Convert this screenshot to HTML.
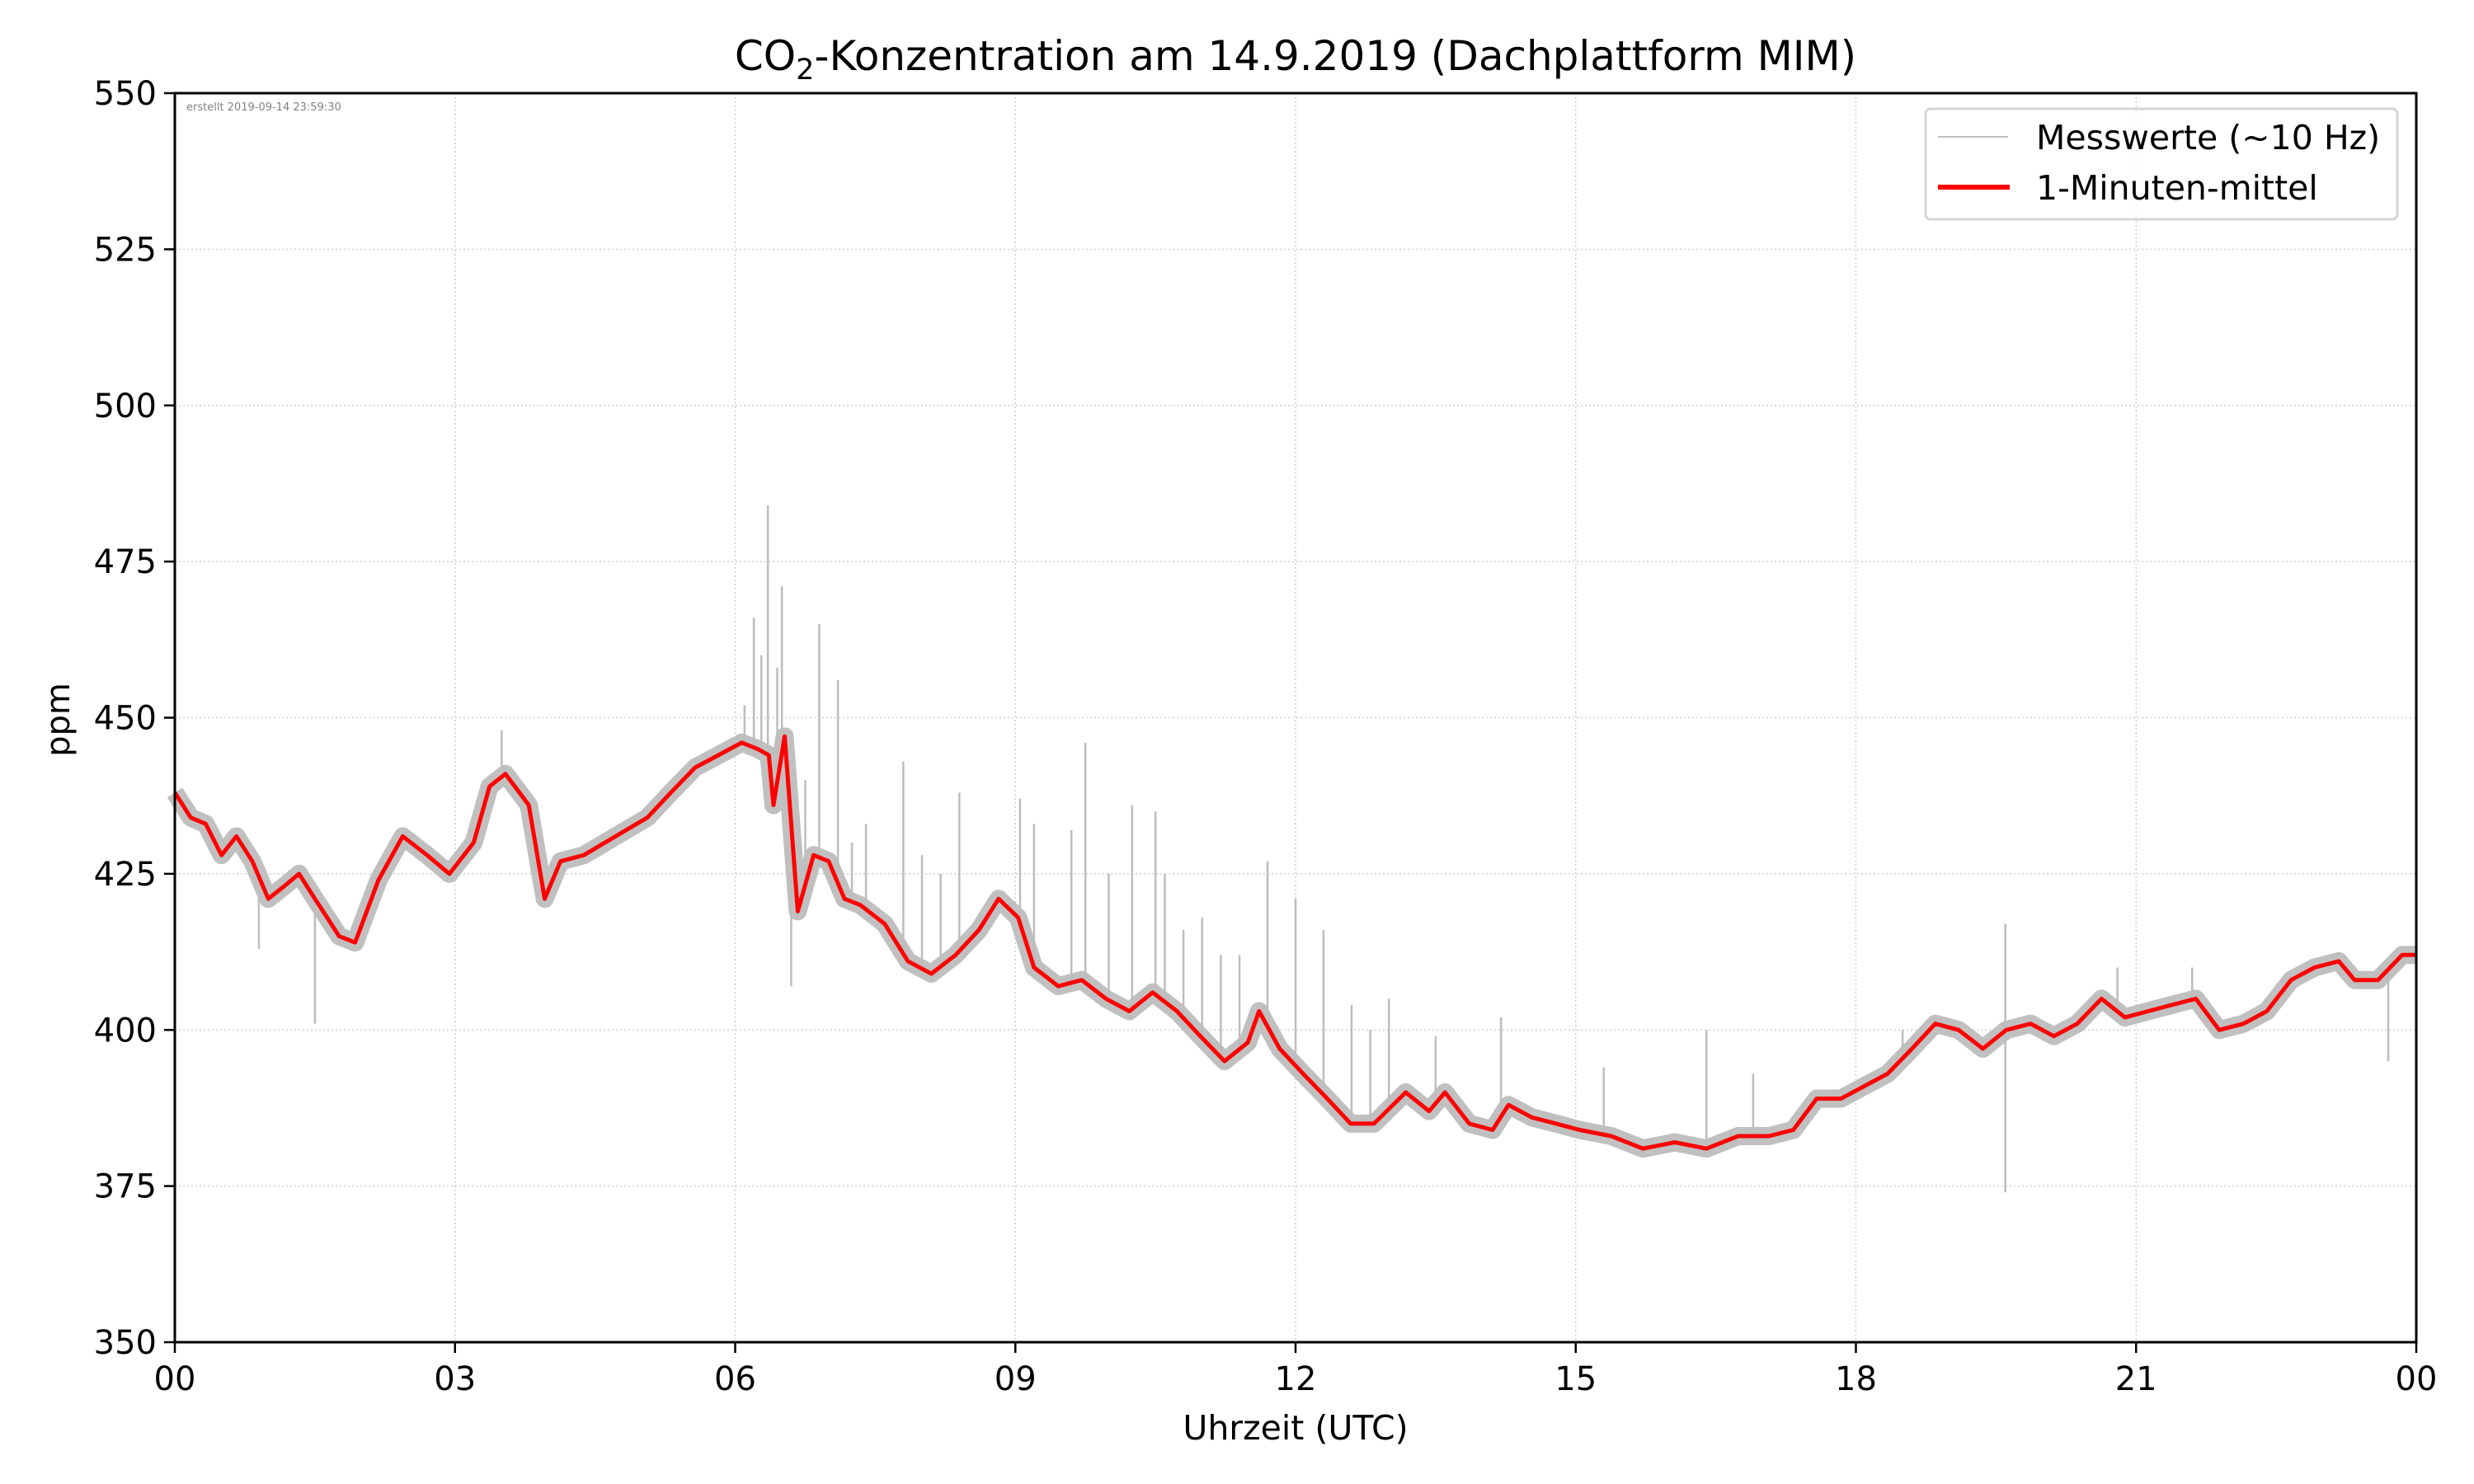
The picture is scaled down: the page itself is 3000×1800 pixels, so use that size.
<!DOCTYPE html>
<html><head><meta charset="utf-8"><style>
html,body{margin:0;padding:0;background:#fff;}
svg{display:block;font-family:"DejaVu Sans","Liberation Sans",sans-serif;}
</style></head><body>
<svg id="chart" width="3000" height="1800" viewBox="0 0 3000 1800" xmlns="http://www.w3.org/2000/svg">
<rect width="3000" height="1800" fill="#fff"/>
<g id="grid"></g>
<g id="raw"></g>
<g id="mean"></g>
<g id="axes"></g>
<text x="1571" y="85" font-size="50" text-anchor="middle">CO<tspan font-size="35" dy="11">2</tspan><tspan dy="-11">-Konzentration am 14.9.2019 (Dachplattform MIM)</tspan></text>
<text x="226" y="134" font-size="13" fill="#808080">erstellt 2019-09-14 23:59:30</text>
<text x="0" y="0" font-size="40" text-anchor="middle" transform="translate(84,873) rotate(-90)">ppm</text>
<text x="1571" y="1746" font-size="41" text-anchor="middle">Uhrzeit (UTC)</text>
<g>
<rect x="2335" y="132" width="572" height="134" rx="6" fill="#fff" fill-opacity="0.8" stroke="#d5d5d5" stroke-width="3"/>
<line x1="2350" y1="166" x2="2435" y2="166" stroke="#bfbfbf" stroke-width="2"/>
<text x="2469" y="181" font-size="41">Messwerte (~10 Hz)</text>
<line x1="2350" y1="227" x2="2437" y2="227" stroke="#ff0000" stroke-width="6"/>
<text x="2469" y="242" font-size="41">1-Minuten-mittel</text>
</g>
</svg>
<script>
const hours = [0,0.17,0.33,0.5,0.66,0.83,1.0,1.17,1.33,1.5,1.76,1.93,2.18,2.44,2.7,2.94,3.2,3.37,3.54,3.79,3.96,4.13,4.38,4.72,5.06,5.31,5.57,5.82,6.07,6.24,6.36,6.41,6.53,6.67,6.84,7.0,7.17,7.34,7.6,7.85,8.1,8.36,8.61,8.82,9.03,9.2,9.46,9.71,9.97,10.22,10.47,10.73,10.98,11.24,11.49,11.61,11.83,12.08,12.34,12.59,12.84,13.18,13.43,13.6,13.86,14.11,14.28,14.53,14.79,15.04,15.38,15.72,16.06,16.4,16.74,17.07,17.33,17.58,17.84,18.09,18.34,18.6,18.85,19.1,19.36,19.61,19.87,20.12,20.37,20.63,20.88,21.13,21.38,21.64,21.89,22.15,22.4,22.66,22.91,23.17,23.34,23.59,23.85,24];
const meanValues = [438,434,433,428,431,427,421,423,425,421,415,414,424,431,428,425,430,439,441,436,421,427,428,431,434,438,442,444,446,445,444,436,447,419,428,427,421,420,417,411,409,412,416,421,418,410,407,408,405,403,406,403,399,395,398,403,397,393,389,385,385,390,387,390,385,384,388,386,385,384,383,381,382,381,383,383,384,389,389,391,393,397,401,400,397,400,401,399,401,405,402,403,404,405,400,401,403,408,410,411,408,408,412,412];
const spikeHours = [0.9,1.5,2.3,3.5,6.2,6.35,6.5,6.9,7.1,7.8,8.4,9.05,9.75,10.25,10.5,11.0,11.7,12.0,12.3,13.0,14.2,16.4,19.6,19.6,23.7,6.6,7.4,8.0,9.2,10.0,10.8,11.4,12.6,13.5,15.3,16.9,18.5,20.8,21.6,6.1,6.28,6.45,6.75,7.25,8.2,9.6,10.6,11.2,12.8];
const spikeValues = [413,401,425,448,466,484,471,465,456,443,438,437,446,436,435,418,427,421,416,405,402,400,417,374,395,407,433,428,433,425,416,412,404,399,394,393,400,410,410,452,460,458,440,430,425,432,425,412,400];
const yTicks = [350,375,400,425,450,475,500,525,550];
const xTickHours = [0,3,6,9,12,15,18,21,24];
const xTickLabels = ["00","03","06","09","12","15","18","21","00"];

const L=212,R=2930,T=113,B=1628;
const x=h=>L+h*(R-L)/24;
const y=v=>B-(v-350)*(B-T)/200;
const NS="http://www.w3.org/2000/svg";
function mk(tag,parent){const e=document.createElementNS(NS,tag);parent.appendChild(e);return e;}
function meanAt(h){for(let i=1;i<hours.length;i++){if(h<=hours[i]){const t=(h-hours[i-1])/(hours[i]-hours[i-1]);return meanValues[i-1]+t*(meanValues[i]-meanValues[i-1]);}}return meanValues[meanValues.length-1];}

const grid=document.getElementById('grid');
yTicks.forEach(v=>{if(v===350||v===550)return;const l=mk('line',grid);


l.setAttribute('x1',L);l.setAttribute('x2',R);l.setAttribute('y1',y(v));l.setAttribute('y2',y(v));l.setAttribute('stroke','#cfcfcf');l.setAttribute('stroke-width','1.5');l.setAttribute('stroke-dasharray','2,3');});
xTickHours.forEach(h=>{if(h===0||h===24)return;const l=mk('line',grid);


l.setAttribute('x1',x(h));l.setAttribute('x2',x(h));l.setAttribute('y1',T);l.setAttribute('y2',B);l.setAttribute('stroke','#cfcfcf');l.setAttribute('stroke-width','1.5');l.setAttribute('stroke-dasharray','2,3');});

const pts=hours.map((h,i)=>x(h).toFixed(1)+','+y(meanValues[i]).toFixed(1)).join(' ');
const raw=document.getElementById('raw');
const band=mk('polyline',raw);


band.setAttribute('points',pts);band.setAttribute('fill','none');band.setAttribute('stroke','#c0c0c0');band.setAttribute('stroke-width','22');band.setAttribute('stroke-linejoin','round');
spikeHours.forEach((h,i)=>{const l=mk('line',raw);


l.setAttribute('x1',x(h));l.setAttribute('x2',x(h));l.setAttribute('y1',y(meanAt(h)));l.setAttribute('y2',y(spikeValues[i]));l.setAttribute('stroke','#bdbdbd');l.setAttribute('stroke-width','2.5');});

const mean=document.getElementById('mean');
const ml=mk('polyline',mean);


ml.setAttribute('points',pts);ml.setAttribute('fill','none');ml.setAttribute('stroke','#ff0000');ml.setAttribute('stroke-width','5');ml.setAttribute('stroke-linejoin','round');

const axes=document.getElementById('axes');
const frame=mk('rect',axes);


frame.setAttribute('x',L);frame.setAttribute('y',T);frame.setAttribute('width',R-L);frame.setAttribute('height',B-T);frame.setAttribute('fill','none');frame.setAttribute('stroke','#000');frame.setAttribute('stroke-width','3');
yTicks.forEach(v=>{const t=mk('line',axes);


t.setAttribute('x1',L-13);t.setAttribute('x2',L);t.setAttribute('y1',y(v));t.setAttribute('y2',y(v));t.setAttribute('stroke','#000');t.setAttribute('stroke-width','2.5');
const tx=mk('text',axes);


tx.setAttribute('x',L-22);tx.setAttribute('y',y(v)+14);tx.setAttribute('font-size','40');tx.setAttribute('text-anchor','end');tx.textContent=v;});
xTickHours.forEach((h,i)=>{const t=mk('line',axes);


t.setAttribute('x1',x(h));t.setAttribute('x2',x(h));t.setAttribute('y1',B);t.setAttribute('y2',B+13);t.setAttribute('stroke','#000');t.setAttribute('stroke-width','2.5');
const tx=mk('text',axes);


tx.setAttribute('x',x(h));tx.setAttribute('y',B+58);tx.setAttribute('font-size','40');tx.setAttribute('text-anchor','middle');tx.textContent=xTickLabels[i];});
</script>
</body></html>
